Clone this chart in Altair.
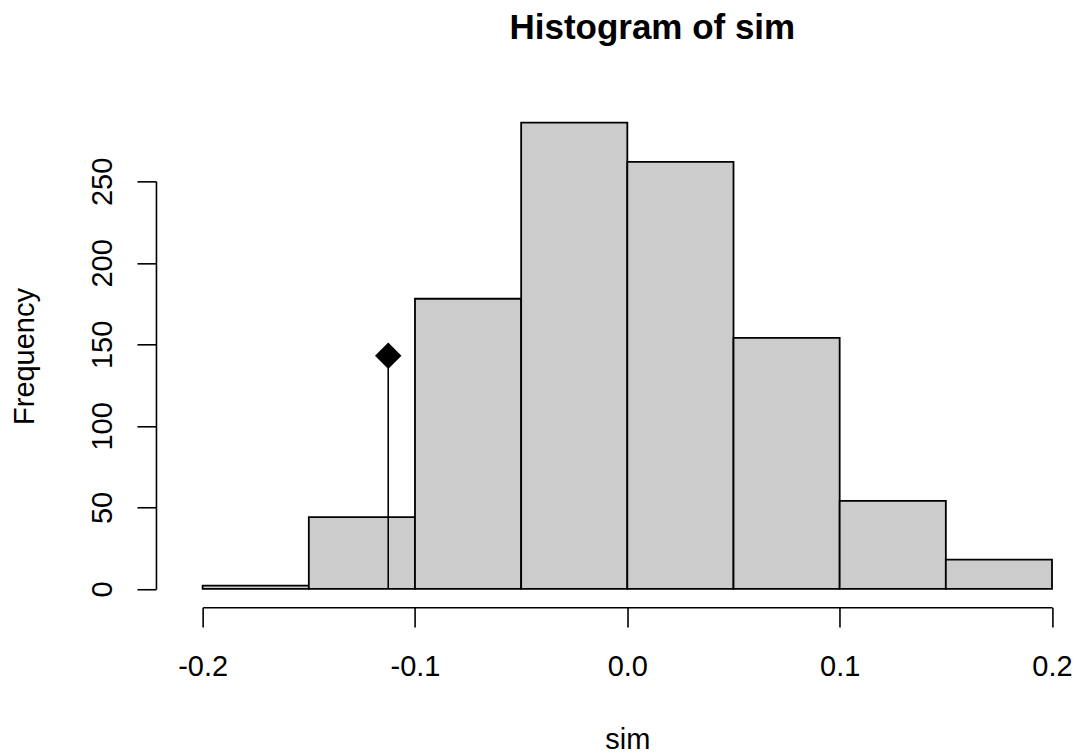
import altair as alt
import pandas as pd

# Histogram bins and counts
bin_start = [-0.20, -0.15, -0.10, -0.05, 0.00, 0.05, 0.10, 0.15]
bin_end = [-0.15, -0.10, -0.05, 0.00, 0.05, 0.10, 0.15, 0.20]
counts = [2, 44, 178, 286, 262, 154, 54, 18]

# Observed statistic marker
obs_x = [-0.1126]
obs_y = [143]

# Axis ticks
x_ticks = [-0.2, -0.1, 0.0, 0.1, 0.2]
y_ticks = [0, 50, 100, 150, 200, 250]

FONT = "Liberation Sans"
W = 849.6
H = 407.7

hist = pd.DataFrame({"start": bin_start, "end": bin_end, "count": counts,
                     "base": [0] * len(counts)})
obs = pd.DataFrame({"x": obs_x, "y": obs_y, "base": [0] * len(obs_x)})

xscale = alt.Scale(domain=[-0.2, 0.2], nice=False, zero=False)
yscale = alt.Scale(domain=[0, 250], nice=False)

xaxis = alt.Axis(
    values=x_ticks,
    labelExpr="datum.value < 0 ? '-' + format(-datum.value, '.1f') : format(datum.value, '.1f')",
    offset=18.3,
    tickSize=19.7,
    labelPadding=48.3,
    labelBaseline="alphabetic",
    labelFontSize=29,
    title="sim",
    titleFontSize=29,
    titleFontWeight="normal",
    titleBaseline="alphabetic",
    titleY=141,
    grid=False,
)
yaxis = alt.Axis(
    values=y_ticks,
    offset=46.7,
    tickSize=19,
    labelPadding=25,
    labelAngle=-90,
    labelAlign="center",
    labelBaseline="alphabetic",
    labelFontSize=29,
    title="Frequency",
    titleFontSize=29,
    titleFontWeight="normal",
    titleAngle=-90,
    titleAlign="center",
    titleBaseline="alphabetic",
    titleX=-122,
    titleY=174.7,
    grid=False,
)

bars = alt.Chart(hist).mark_rect(
    fill="#cccccc", stroke="black", strokeWidth=1.8
).encode(
    x=alt.X("start:Q", scale=xscale, axis=xaxis),
    x2="end:Q",
    y=alt.Y("count:Q", scale=yscale, axis=yaxis),
    y2="base:Q",
)

stem = alt.Chart(obs).mark_rule(color="black", strokeWidth=1.6).encode(
    x=alt.X("x:Q", scale=xscale, axis=xaxis),
    y=alt.Y("y:Q", scale=yscale, axis=yaxis),
    y2="base:Q",
)

point = alt.Chart(obs).mark_point(
    shape="diamond", filled=True, size=700, color="black", opacity=1
).encode(
    x=alt.X("x:Q", scale=xscale, axis=xaxis),
    y=alt.Y("y:Q", scale=yscale, axis=yaxis),
)

chart = alt.layer(bars, stem, point).properties(
    width=W,
    height=H,
    autosize="none",
    padding={"left": 194.7, "top": 173.3, "right": 20, "bottom": 166},
    title=alt.TitleParams(
        "Histogram of sim",
        font=FONT,
        fontSize=35,
        fontWeight="bold",
        color="black",
        anchor="middle",
        dx=25,
        dy=-44,
        baseline="alphabetic",
    ),
).configure_view(stroke=None).configure_axis(
    labelFont=FONT,
    titleFont=FONT,
    labelColor="black",
    titleColor="black",
    domainColor="black",
    tickColor="black",
    domainWidth=1.6,
    tickWidth=1.6,
    labelOverlap=False,
    labelFlush=False,
)

chart.save("out.html", embed_options={"renderer": "svg", "actions": False})
